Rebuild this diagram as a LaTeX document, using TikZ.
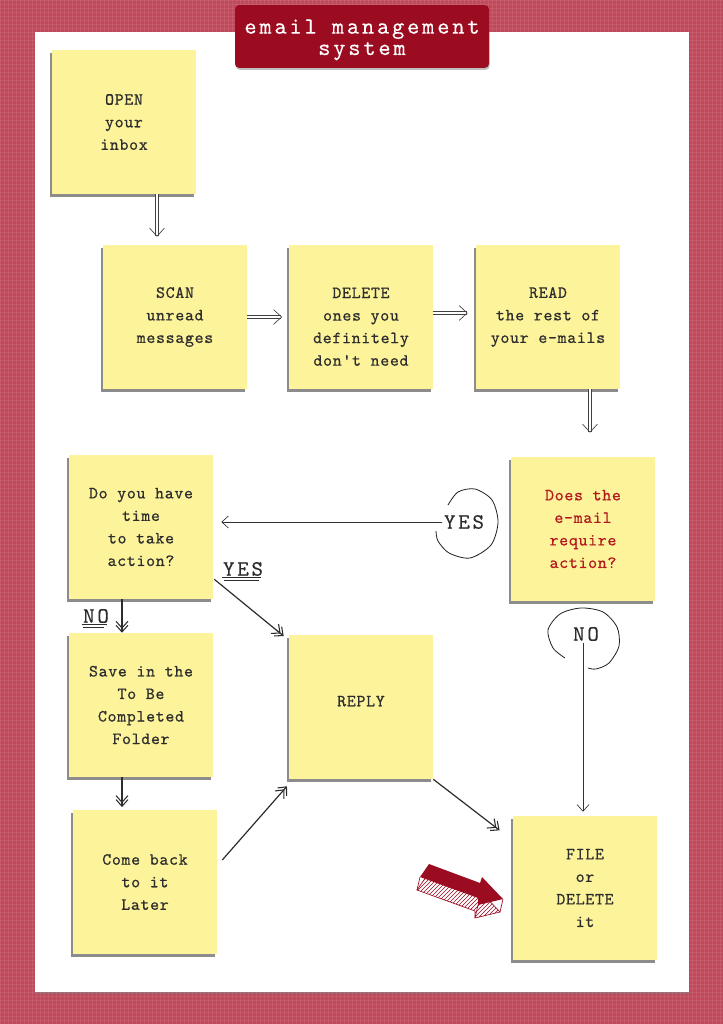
\documentclass[tikz,border=0pt]{standalone}
\usepackage{fontspec}
\usetikzlibrary{arrows.meta,calc,shadows,patterns}
\definecolor{fabric}{RGB}{192,74,92}
\definecolor{titlered}{RGB}{155,12,32}
\definecolor{notey}{RGB}{252,243,155}
\definecolor{ink}{RGB}{45,45,45}
\definecolor{redtext}{RGB}{180,24,30}
\newfontfamily\mynotefam{lmmono10-regular.otf}[LetterSpace=4, FakeBold=0.6]
\newfontfamily\mylblfam{lmmono10-regular.otf}[LetterSpace=12, FakeBold=0.4]
\newfontfamily\mytitlefam{lmmono10-regular.otf}[LetterSpace=12, FakeBold=0.3]
\newcommand\mynotefont{\mynotefam\fontsize{12.8}{16.9}\selectfont}
\newcommand\mylblfont{\mylblfam\fontsize{16.5}{17}\selectfont}
\newcommand\mytitlefont{\mytitlefam\fontsize{17.5}{16}\selectfont}
\tikzset{
  note/.style={fill=notey, minimum width=108pt, minimum height=108pt, inner sep=0pt,
    align=center, text=ink, font=\mynotefont,
    drop shadow={shadow xshift=-1.8pt, shadow yshift=-2.2pt, opacity=0.6, fill=black!75}},
  dbl/.style={draw=gray!50!black, line width=0.45pt, double=white, double distance=2.2pt,
    -{Straight Barb[length=6pt,width=11pt,line width=0.5pt]}},
  sk/.style={draw=gray!35!black, line width=0.9pt,
    -{Straight Barb[length=5pt,width=9pt,line width=0.8pt,sep=-3pt]Straight Barb[length=5pt,width=9pt,line width=0.8pt]}},
  thinarr/.style={draw=gray!40!black, line width=0.5pt,
    -{Straight Barb[length=5pt,width=9pt]}},
  curl/.style={draw=gray!25!black, line width=0.6pt},
  lbl/.style={font=\mylblfont, text=ink, inner sep=1pt},
}
\begin{document}
\begin{tikzpicture}[x=0.75pt,y=-0.75pt]
\useasboundingbox (0,0) rectangle (723,1024);
\fill[fabric] (0,0) rectangle (723,1024);
\fill[pattern=grid, pattern color=white, opacity=0.08] (0,0) rectangle (723,1024);
% paper
\node[fill=white, minimum width=490.5pt, minimum height=720pt, inner sep=0pt,
  drop shadow={shadow xshift=0pt, shadow yshift=-1.5pt, opacity=0.5}] (paper) at (362,512) {};
% title
\node[fill=titlered, rounded corners=3pt, minimum width=190.5pt, minimum height=47pt,
  drop shadow={shadow xshift=0.5pt, shadow yshift=-1.5pt, opacity=0.5}] (title) at (362,36.5) {};
\node[text=white, align=center, font=\mytitlefont, inner sep=0pt] (titletext) at ([yshift=-2.5pt]title.center)
  {email management\\system};
% notes
\node[note] (open) at (124,122) {OPEN\\your\\inbox};
\node[note] (scan) at (175,317) {SCAN\\unread\\messages};
\node[note] (del) at (361,317) {\mbox{}\\[5.5pt]DELETE\\ones you\\definitely\\don't need};
\node[note] (read) at (548,317) {READ\\the rest of\\your e-mails};
\node[note, text=redtext] (does) at (583,529) {Does the\\e-mail\\require\\action?};
\node[note] (time) at (141,527) {Do you have\\time\\to take\\action?};
\node[note] (save) at (141,705) {Save in the\\To Be\\Completed\\Folder};
\node[note] (come) at (145,882) {Come back\\to it\\Later};
\node[note] (reply) at (361,707) {REPLY\\[-8pt]\mbox{}};
\node[note] (file) at (585,888) {FILE\\or\\DELETE\\it};
% double arrows
\draw[dbl, shorten >=6pt] (open.south -| 157,0) -- (scan.north -| 157,0);
\draw[dbl, shorten >=5pt] (scan.east) -- (del.west);
\draw[dbl, shorten >=6pt] ([yshift=3pt]del.east) -- ([yshift=3pt]read.west);
\draw[dbl, shorten >=18pt] (read.south -| 590,0) -- (does.north -| 590,0);
% YES / NO labels
\node[lbl] (yes) at (464,522) {YES};
\node[lbl] (no) at (586,634) {NO};
\node[lbl] (yes2) at (243,569) {YES};
\node[lbl] (no2) at (96,616) {NO};
\draw[curl] plot[smooth] coordinates {(448,505) (458,492) (475,489) (492,500) (498,522) (491,545) (470,558) (449,553) (438,541) (436,531)};
\draw[curl] plot[smooth] coordinates {(565,658) (553,648) (548,630) (560,614) (581,608) (603,612) (617,627) (619,646) (609,663) (596,669) (588,668)};
\draw[thinarr, shorten >=6pt] (yes.west) -- (time.east |- yes.west);
\coordinate (noTop) at (no.south -| 583,0);
\draw[thinarr, shorten >=3pt] (noTop) -- (noTop |- file.north);
% underlines
\draw[ink, line width=0.5pt] ($(yes2.south west)+(1,0)$) -- ($(yes2.south east)+(-4,0)$);
\draw[ink, line width=0.5pt] ($(yes2.south west)+(3,2.5)$) -- ($(yes2.south east)+(-6,2.5)$);
\draw[ink, line width=0.5pt] ($(no2.south west)+(0,0)$) -- ($(no2.south east)+(-3,0)$);
\draw[ink, line width=0.5pt] ($(no2.south west)+(1,2.5)$) -- ($(no2.south east)+(-6,2.5)$);
% sketch arrows
\draw[sk] (time.south -| 122,0) -- (save.north -| 122,0);
\draw[sk] (save.south -| 122,0) -- ([yshift=2pt]come.north -| 122,0);
\draw[sk, shorten >=2pt] ($(time.south east)+(1,-20)$) -- ($(reply.north west)+(-3,3)$);
\draw[sk, shorten >=2pt] ($(come.east)+(5,-22)$) -- ($(reply.south west)+(0,5)$);
\draw[sk, shorten >=3pt] (reply.south east) -- ($(file.north west)+(-10,17)$);
% red 3D arrow
\def\redarrow{(429,864) -- (480,883) -- (482,877) -- (503,899) -- (478,905) -- (478,898) -- (420,877) -- cycle}
\begin{scope}[shift={(-3,13)}]
  \fill[white] \redarrow;
  \fill[pattern=north east lines, pattern color=titlered] \redarrow;
  \draw[titlered, line width=0.5pt] \redarrow;
\end{scope}
\draw[titlered, line width=0.5pt] (420,877) -- ++(-3,13) (478,905) -- ++(-3,13) (503,899) -- ++(-3,13);
\fill[titlered] \redarrow;
\end{tikzpicture}
\end{document}
